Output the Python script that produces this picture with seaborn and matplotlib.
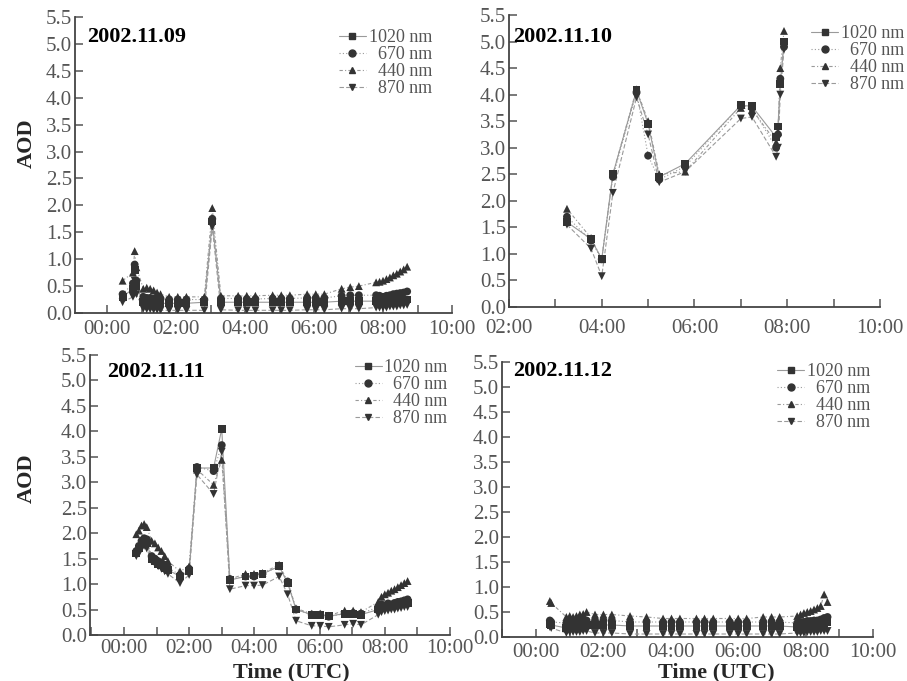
import numpy as np
import pandas as pd
import seaborn as sns
import matplotlib.pyplot as plt
from matplotlib.lines import Line2D
from matplotlib.ticker import MultipleLocator, FuncFormatter

# ---------------- data (UTC hours, AOD) ----------------
t_1109 = [0.45, 0.75, 0.8, 0.85, 1.05, 1.15, 1.25, 1.35, 1.45, 1.55, 1.8, 2.05, 2.3, 2.82, 3.05, 3.3,
          3.8, 4.05, 4.3, 4.8, 5.05, 5.3, 5.8, 6.05, 6.3, 6.8, 7.05, 7.3,
          7.8, 7.9, 8.0, 8.1, 8.2, 8.3, 8.4, 8.5, 8.6, 8.7]
aod440_1109 = [0.6, 0.75, 1.15, 0.85, 0.45, 0.47, 0.45, 0.42, 0.38, 0.35, 0.3, 0.3, 0.3, 0.3, 1.95, 0.32,
               0.32, 0.32, 0.32, 0.33, 0.33, 0.33, 0.35, 0.35, 0.35, 0.45, 0.48, 0.5,
               0.57, 0.58, 0.6, 0.63, 0.66, 0.7, 0.73, 0.77, 0.81, 0.86]
aod670_1109 = [0.35, 0.55, 0.9, 0.6, 0.3, 0.28, 0.28, 0.27, 0.27, 0.26, 0.25, 0.25, 0.25, 0.25, 1.75, 0.27,
               0.27, 0.26, 0.26, 0.27, 0.27, 0.27, 0.28, 0.28, 0.28, 0.32, 0.33, 0.33,
               0.33, 0.32, 0.3, 0.32, 0.33, 0.35, 0.36, 0.37, 0.38, 0.4]
aod1020_1109 = [0.3, 0.45, 0.8, 0.5, 0.2, 0.18, 0.2, 0.19, 0.18, 0.18, 0.18, 0.18, 0.18, 0.2, 1.7, 0.2,
                0.2, 0.2, 0.2, 0.2, 0.2, 0.2, 0.2, 0.2, 0.2, 0.22, 0.22, 0.22,
                0.22, 0.2, 0.2, 0.22, 0.2, 0.22, 0.22, 0.24, 0.25, 0.25]
aod870_1109 = [0.2, 0.3, 0.6, 0.35, 0.08, 0.07, 0.07, 0.06, 0.06, 0.05, 0.05, 0.05, 0.05, 0.05, 1.6, 0.06,
               0.05, 0.05, 0.05, 0.05, 0.05, 0.05, 0.06, 0.06, 0.06, 0.08, 0.08, 0.08,
               0.1, 0.1, 0.1, 0.1, 0.12, 0.12, 0.12, 0.14, 0.14, 0.15]

t_1110 = [3.25, 3.77, 4.0, 4.24, 4.75, 5.0, 5.24, 5.8, 7.0, 7.24, 7.76, 7.8, 7.85, 7.93]
aod440_1110 = [1.85, 1.3, 0.9, 2.5, 4.1, 3.5, 2.5, 2.55, 3.75, 3.72, 3.1, 3.3, 4.5, 5.2]
aod670_1110 = [1.7, 1.25, 0.9, 2.45, 4.05, 2.85, 2.4, 2.65, 3.8, 3.75, 3.0, 3.25, 4.3, 4.9]
aod1020_1110 = [1.6, 1.28, 0.9, 2.5, 4.08, 3.45, 2.45, 2.7, 3.8, 3.78, 3.2, 3.4, 4.2, 5.0]
aod870_1110 = [1.55, 1.1, 0.58, 2.15, 3.95, 3.25, 2.35, 2.55, 3.55, 3.58, 2.83, 3.0, 4.0, 4.85]

t_1111 = [0.38, 0.46, 0.54, 0.62, 0.7, 0.85, 0.95, 1.05, 1.15, 1.25, 1.35, 1.72, 2.0, 2.24, 2.75, 3.0, 3.25,
          3.73, 3.99, 4.25, 4.76, 5.02, 5.28, 5.76, 6.02, 6.28, 6.77, 7.03, 7.27,
          7.8, 7.9, 8.0, 8.1, 8.2, 8.3, 8.4, 8.5, 8.6, 8.7]
aod440_1111 = [1.98, 2.05, 2.15, 2.18, 2.12, 1.85, 1.8, 1.72, 1.65, 1.55, 1.45, 1.25, 1.35, 3.25, 2.95, 3.44, 1.1,
               1.2, 1.2, 1.22, 1.38, 1.05, 0.52, 0.42, 0.42, 0.38, 0.48, 0.48, 0.45,
               0.65, 0.75, 0.8, 0.83, 0.87, 0.9, 0.94, 0.98, 1.02, 1.06]
aod670_1111 = [1.65, 1.75, 1.85, 1.9, 1.88, 1.55, 1.5, 1.45, 1.42, 1.38, 1.32, 1.18, 1.3, 3.3, 3.22, 3.73, 1.1,
               1.15, 1.15, 1.2, 1.35, 1.05, 0.5, 0.4, 0.4, 0.36, 0.42, 0.43, 0.42,
               0.55, 0.6, 0.58, 0.62, 0.6, 0.63, 0.65, 0.66, 0.68, 0.7]
aod1020_1111 = [1.6, 1.7, 1.8, 1.85, 1.8, 1.5, 1.45, 1.4, 1.38, 1.32, 1.28, 1.15, 1.25, 3.28, 3.28, 4.05, 1.08,
                1.15, 1.17, 1.2, 1.35, 1.02, 0.5, 0.4, 0.4, 0.37, 0.42, 0.42, 0.4,
                0.5, 0.55, 0.55, 0.57, 0.56, 0.58, 0.6, 0.6, 0.62, 0.63]
aod870_1111 = [1.55, 1.6, 1.7, 1.75, 1.7, 1.45, 1.4, 1.35, 1.3, 1.25, 1.2, 1.02, 1.18, 3.15, 2.77, 3.6, 0.9,
               0.97, 0.97, 0.98, 1.15, 0.8, 0.28, 0.18, 0.18, 0.16, 0.2, 0.22, 0.2,
               0.4, 0.45, 0.47, 0.48, 0.5, 0.5, 0.52, 0.53, 0.55, 0.55]

t_1112 = [0.41, 0.45, 0.9, 1.0, 1.1, 1.2, 1.3, 1.4, 1.5, 1.75, 2.0, 2.25, 2.79, 3.28,
          3.77, 4.02, 4.27, 4.76, 5.0, 5.26, 5.75, 6.0, 6.25, 6.74, 6.99, 7.23,
          7.75, 7.85, 7.95, 8.05, 8.15, 8.25, 8.35, 8.45, 8.55, 8.65]
aod440_1112 = [0.72, 0.68, 0.4, 0.42, 0.4, 0.42, 0.45, 0.46, 0.5, 0.45, 0.45, 0.45, 0.42, 0.4,
               0.37, 0.37, 0.37, 0.37, 0.37, 0.37, 0.37, 0.37, 0.37, 0.4, 0.4, 0.4,
               0.42, 0.45, 0.48, 0.5, 0.52, 0.55, 0.58, 0.62, 0.85, 0.7]
aod670_1112 = [0.33, 0.3, 0.28, 0.3, 0.3, 0.32, 0.33, 0.35, 0.33, 0.33, 0.33, 0.33, 0.3, 0.3,
               0.3, 0.3, 0.3, 0.3, 0.3, 0.3, 0.3, 0.3, 0.3, 0.3, 0.3, 0.3,
               0.28, 0.3, 0.3, 0.32, 0.32, 0.33, 0.33, 0.35, 0.38, 0.4]
aod1020_1112 = [0.25, 0.24, 0.18, 0.2, 0.2, 0.22, 0.22, 0.24, 0.24, 0.24, 0.24, 0.24, 0.22, 0.22,
                0.22, 0.22, 0.22, 0.22, 0.22, 0.22, 0.22, 0.22, 0.22, 0.22, 0.22, 0.22,
                0.2, 0.2, 0.22, 0.22, 0.24, 0.24, 0.25, 0.25, 0.28, 0.3]
aod870_1112 = [0.2, 0.18, 0.08, 0.1, 0.1, 0.1, 0.1, 0.12, 0.12, 0.08, 0.08, 0.08, 0.06, 0.06,
               0.06, 0.06, 0.06, 0.06, 0.06, 0.06, 0.06, 0.06, 0.06, 0.06, 0.06, 0.06,
               0.08, 0.08, 0.08, 0.1, 0.1, 0.1, 0.1, 0.12, 0.12, 0.12]

wavelengths = ['1020 nm', '670 nm', '440 nm', '870 nm']
legend_labels = ['1020 nm', '\u2007670 nm', '\u2007440 nm', '\u2007870 nm']
markers = {'1020 nm': 's', '670 nm': 'o', '440 nm': '^', '870 nm': 'v'}
dashes = {'1020 nm': '', '670 nm': (1, 2), '440 nm': (3, 2, 1, 2), '870 nm': (4, 2)}

days = [
    ('2002.11.09', t_1109, aod1020_1109, aod670_1109, aod440_1109, aod870_1109),
    ('2002.11.10', t_1110, aod1020_1110, aod670_1110, aod440_1110, aod870_1110),
    ('2002.11.11', t_1111, aod1020_1111, aod670_1111, aod440_1111, aod870_1111),
    ('2002.11.12', t_1112, aod1020_1112, aod670_1112, aod440_1112, aod870_1112),
]

# ---------------- style ----------------
sns.set_theme(style='ticks')
serif = ['Liberation Serif', 'DejaVu Serif']
plt.rcParams['font.family'] = serif
plt.rcParams['axes.edgecolor'] = '#444444'
plt.rcParams['axes.linewidth'] = 1.3

W, H = 907, 681
fig = plt.figure(figsize=(W / 100, H / 100), dpi=100)

# axes boxes in pixels: left, right, top, bottom
boxes = [(75, 452, 17, 313), (509, 880, 15, 307), (90, 450, 355, 635), (502, 873, 362, 637)]
xlims = [(-0.93, 10), (2, 10), (-1.04, 10), (-1.01, 10)]
xpads = [5, 9, 3, 4]
title_pos = [(0.032, 0.932), (0.011, 0.925), (0.047, 0.94), (0.03, 0.967)]
leg_pos = [(0.70, 0.96), (0.815, 0.965), (0.735, 0.985), (0.742, 0.995)]

line_col = '#9a9a9a'
mark_col = '#333333'
tick_col = '#555555'

for i, (day, t, a1020, a670, a440, a870) in enumerate(days):
    l, r, tp, bt = boxes[i]
    ax = fig.add_axes([l / W, 1 - bt / H, (r - l) / W, (bt - tp) / H])
    df = pd.DataFrame({'t': t, '1020 nm': a1020, '670 nm': a670, '440 nm': a440, '870 nm': a870})
    df = df.melt(id_vars='t', var_name='wl', value_name='aod')

    sns.lineplot(data=df, x='t', y='aod', hue='wl', style='wl', hue_order=wavelengths,
                 style_order=wavelengths, dashes=dashes, palette={w: line_col for w in wavelengths},
                 linewidth=0.8, sort=True, estimator=None, legend=False, ax=ax)
    sns.scatterplot(data=df, x='t', y='aod', hue='wl', style='wl', hue_order=wavelengths,
                    style_order=wavelengths, markers=markers, palette={w: mark_col for w in wavelengths},
                    s=32, linewidth=0, legend=False, ax=ax, zorder=3)

    ax.set_xlim(*xlims[i])
    ax.set_ylim(0, 5.5)
    ax.set_xlabel('')
    ax.set_ylabel('')
    ax.xaxis.set_major_locator(MultipleLocator(2))
    ax.xaxis.set_minor_locator(MultipleLocator(1))
    ax.xaxis.set_major_formatter(FuncFormatter(lambda v, p: '%02d:00' % int(round(v))))
    ax.yaxis.set_major_locator(MultipleLocator(0.5))
    ax.yaxis.set_major_formatter(FuncFormatter(lambda v, p: '%.1f' % v))
    ax.tick_params(axis='both', which='both', direction='in', length=6, width=1.1,
                   color='#555555', labelcolor=tick_col, labelsize=15)
    ax.tick_params(axis='x', pad=xpads[i])
    ax.tick_params(axis='y', pad=2)
    sns.despine(ax=ax)

    ax.text(title_pos[i][0], title_pos[i][1], day, transform=ax.transAxes, fontsize=16,
            fontweight='bold', color='black', ha='left', va='center')

    handles = [Line2D([0], [0], color=line_col, lw=0.8,
                      linestyle='-' if w == '1020 nm' else (0, dashes[w]),
                      marker=markers[w], markersize=5, markerfacecolor=mark_col,
                      markeredgecolor=mark_col) for w in wavelengths]
    leg = ax.legend(handles, legend_labels, loc='upper left', bbox_to_anchor=leg_pos[i],
                    frameon=False, fontsize=13, handlelength=1.5, handletextpad=0.15,
                    labelspacing=0.0, borderpad=0, borderaxespad=0)
    for txt in leg.get_texts():
        txt.set_color('#555555')

fig.text(27 / W, 1 - 143 / H, 'AOD', rotation=90, fontsize=16, fontweight='bold',
         ha='center', va='center')
fig.text(27 / W, 1 - 478 / H, 'AOD', rotation=90, fontsize=16, fontweight='bold',
         ha='center', va='center')
fig.text(291 / W, 1 - 672 / H, 'Time (UTC)', fontsize=16, fontweight='bold', ha='center', va='center')
fig.text(716 / W, 1 - 672 / H, 'Time (UTC)', fontsize=16, fontweight='bold', ha='center', va='center')

fig.savefig('out.png', dpi=100)
